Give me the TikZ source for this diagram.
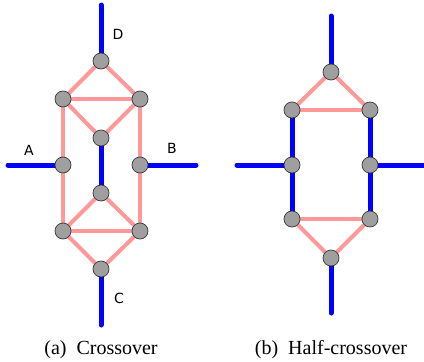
\documentclass[tikz,border=0pt]{standalone}
\usepackage{fontspec}
\setmainfont{Liberation Serif}
\newfontfamily\armfont{DejaVu Sans}
\newfontfamily\capfont{Liberation Serif}
\usetikzlibrary{positioning,backgrounds}
\definecolor{crosspink}{RGB}{255,153,153}

\begin{document}
\begin{tikzpicture}[
    x=1pt, y=-1pt,
    junction/.style={
        circle,
        draw=gray!45!black,
        fill=gray!75,
        line width=0.7pt,
        minimum size=16pt,
        inner sep=0pt
    },
    helix/.style={blue, line width=5pt, line cap=round},
    cross/.style={crosspink, line width=4pt},
    arm/.style={font=\armfont\fontsize{14}{16}\selectfont},
    caption/.style={font=\capfont\fontsize{20}{24}\selectfont}
]
\useasboundingbox (0,0) rectangle (424,362);

% =====================================================
% (a) CROSSOVER
% =====================================================

% Junctions
\node[junction] (aD) at (101,61) {};
\node[junction] (aUL) at (63,99) {};
\node[junction] (aUR) at (140,99) {};
\node[junction] (aUM) at (101,138) {};
\node[junction] (aA) at (63,165) {};
\node[junction] (aB) at (140,165) {};
\node[junction] (aLM) at (101,193) {};
\node[junction] (aLL) at (63,231) {};
\node[junction] (aLR) at (140,231) {};
\node[junction] (aC) at (101,269) {};

% Free ends
\coordinate (aDend) at (101,5);
\coordinate (aAend) at (8,165);
\coordinate (aBend) at (196,165);
\coordinate (aCend) at (101,325);

% Arm labels
\node[arm] (labD) at (118,34) {D};
\node[arm] (labA) at (29,150) {A};
\node[arm] (labB) at (172,148) {B};
\node[arm] (labC) at (119,298) {C};

\begin{scope}[on background layer]
    \draw[helix] (aDend) -- (aD.center);
    \draw[helix] (aAend) -- (aA.center);
    \draw[helix] (aB.center) -- (aBend);
    \draw[helix] (aC.center) -- (aCend);
    \draw[helix] (aUM.center) -- (aLM.center);
    \foreach \a/\b in {aD/aUL, aD/aUR, aUL/aUR, aUL/aUM, aUR/aUM,
                       aUL/aA, aA/aLL, aUR/aB, aB/aLR,
                       aLM/aLL, aLM/aLR, aLL/aLR, aLL/aC, aLR/aC}
        \draw[cross] (\a.center) -- (\b.center);
\end{scope}

\node[caption] (capA) at (101,350) {(a)\hspace{0.5em}Crossover};

% =====================================================
% (b) HALF-CROSSOVER
% =====================================================

% Junctions
\node[junction] (bT) at (331,72) {};
\node[junction] (bUL) at (292,110) {};
\node[junction] (bUR) at (370,110) {};
\node[junction] (bML) at (292,165) {};
\node[junction] (bMR) at (370,165) {};
\node[junction] (bLL) at (292,219) {};
\node[junction] (bLR) at (370,219) {};
\node[junction] (bB) at (331,258) {};

% Free ends
\coordinate (bTend) at (331,16);
\coordinate (bLend) at (237,165);
\coordinate (bRend) at (424,165);
\coordinate (bBend) at (331,313);

\begin{scope}[on background layer]
    \draw[helix] (bTend) -- (bT.center);
    \draw[helix] (bLend) -- (bML.center);
    \draw[helix] (bMR.center) -- (bRend);
    \draw[helix] (bB.center) -- (bBend);
    \draw[helix] (bUL.center) -- (bML.center) -- (bLL.center);
    \draw[helix] (bUR.center) -- (bMR.center) -- (bLR.center);
    \foreach \a/\b in {bT/bUL, bT/bUR, bUL/bUR, bLL/bLR, bLL/bB, bLR/bB}
        \draw[cross] (\a.center) -- (\b.center);
\end{scope}

\node[caption] (capB) at (331,350) {(b)\hspace{0.5em}Half-crossover};

\end{tikzpicture}
\end{document}
